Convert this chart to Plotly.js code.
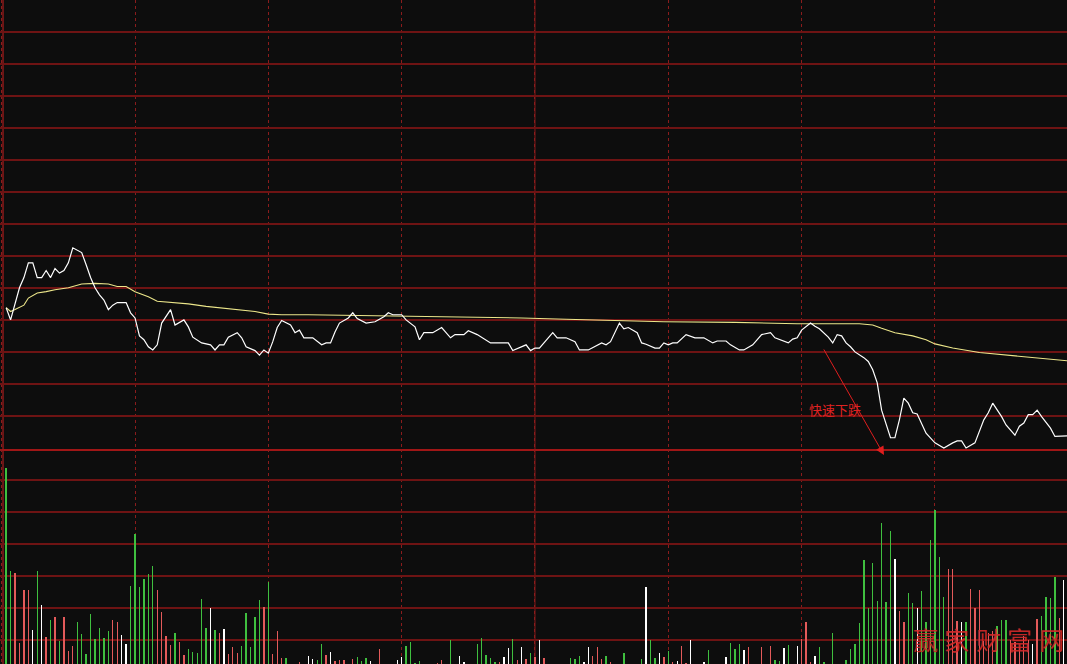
<!DOCTYPE html>
<html>
<head>
<meta charset="utf-8">
<script src="https://cdn.plot.ly/plotly-3.0.1.min.js"></script>
<style>
  html, body { margin: 0; padding: 0; background: #0d0d0d; }
  #chart { width: 1067px; height: 664px; }
</style>
</head>
<body>
<div id="chart"></div>
<script>
// ---- price line (minute of session, % change vs previous close) ----
const priceMin = [1,2,4,5,6,7,8,9,10,11,12,13,14,15,16,18,19,20,21,22,23,24,25,26,28,29,30,31,32,33,34,35,36,37,38,39,41,42,43,45,47,48,49,50,51,53,54,55,57,58,59,60,61,62,63,65,66,67,68,70,72,73,74,75,76,78,79,80,82,84,86,87,88,90,91,93,94,95,97,99,101,102,104,105,107,110,111,114,115,117,118,119,120,121,124,125,127,129,130,132,135,136,137,139,140,141,143,144,145,147,148,149,150,151,152,154,156,158,160,161,163,164,166,167,169,171,172,173,174,176,177,178,179,180,182,183,184,186,187,188,189,190,191,192,194,195,196,197,198,200,201,202,203,204,205,206,208,210,212,214,215,216,217,219,221,222,223,225,226,228,229,230,231,232,233,234,236,237,239,240];
const priceVal = [-1.31,-1.50,-1.00,-0.84,-0.61,-0.61,-0.84,-0.84,-0.73,-0.84,-0.70,-0.77,-0.73,-0.61,-0.375,-0.45,-0.64,-0.84,-1.00,-1.11,-1.19,-1.34,-1.27,-1.23,-1.23,-1.39,-1.47,-1.75,-1.81,-1.92,-1.97,-1.89,-1.55,-1.44,-1.34,-1.58,-1.50,-1.61,-1.77,-1.86,-1.89,-1.97,-1.89,-1.89,-1.77,-1.70,-1.78,-1.92,-1.98,-2.05,-1.97,-2.02,-1.84,-1.62,-1.51,-1.58,-1.70,-1.66,-1.78,-1.78,-1.89,-1.86,-1.86,-1.69,-1.55,-1.47,-1.39,-1.48,-1.55,-1.53,-1.45,-1.39,-1.42,-1.42,-1.50,-1.61,-1.81,-1.70,-1.70,-1.62,-1.78,-1.73,-1.73,-1.67,-1.73,-1.86,-1.86,-1.86,-1.98,-1.92,-1.89,-1.98,-1.94,-1.94,-1.70,-1.78,-1.78,-1.84,-1.97,-1.97,-1.86,-1.89,-1.84,-1.55,-1.64,-1.62,-1.70,-1.86,-1.88,-1.94,-1.94,-1.86,-1.89,-1.86,-1.86,-1.73,-1.78,-1.78,-1.86,-1.83,-1.83,-1.89,-1.97,-1.97,-1.89,-1.73,-1.72,-1.70,-1.78,-1.83,-1.86,-1.80,-1.78,-1.66,-1.55,-1.60,-1.64,-1.77,-1.86,-1.73,-1.75,-1.86,-1.92,-2.00,-2.09,-2.15,-2.28,-2.48,-2.91,-3.34,-3.34,-3.06,-2.72,-2.80,-2.95,-2.97,-3.27,-3.42,-3.50,-3.42,-3.39,-3.39,-3.50,-3.42,-3.06,-2.95,-2.80,-3.01,-3.14,-3.30,-3.16,-3.11,-2.98,-2.98,-2.91,-3.01,-3.19,-3.32,-3.31,-3.31];

// ---- average price line ----
const avgMin = [1,2,3,5,6,8,10,12,15,16,18,21,24,26,28,30,33,35,38,42,46,51,57,60,63,69,93,108,117,127,140,149,165,179,193,196,198,201,205,208,210,214,220,228,234,240];
const avgVal = [-1.31,-1.37,-1.34,-1.27,-1.16,-1.08,-1.06,-1.03,-1.00,-0.98,-0.94,-0.93,-0.94,-0.98,-0.98,-1.06,-1.14,-1.21,-1.23,-1.25,-1.29,-1.33,-1.37,-1.41,-1.42,-1.42,-1.44,-1.46,-1.47,-1.49,-1.51,-1.53,-1.54,-1.56,-1.56,-1.58,-1.63,-1.70,-1.75,-1.81,-1.875,-1.94,-2.01,-2.06,-2.10,-2.14];

// ---- volume per minute (lots), minutes 1..239 ----
const volume = [
 3180,1580,1540,460,1280,1280,660,1580,1050,550,
 810,860,480,860,330,410,780,590,280,910,
 520,690,530,640,810,780,580,440,1340,2160,
 1330,1450,1530,1660,1280,940,560,420,610,470,
 270,360,310,300,1140,690,1000,660,610,670,
 280,390,300,410,920,390,860,1130,1020,1410,
 280,640,220,220,0,0,160,0,250,200,
 190,440,270,310,170,190,190,0,200,230,
 170,220,170,0,360,0,0,0,190,230,
 410,470,140,170,0,0,0,140,190,0,
 500,0,250,160,0,0,440,530,270,220,
 160,160,230,380,520,190,390,200,300,230,
 500,220,0,0,0,0,0,220,200,250,
 160,390,250,390,200,250,160,0,0,300,
 0,0,0,200,1330,500,220,300,230,330,
 160,170,410,140,500,0,0,160,340,0,
 0,0,230,450,360,440,340,390,0,0,
 390,0,410,190,170,380,420,0,410,520,
 780,160,250,390,160,0,610,0,0,190,
 360,440,770,1750,1000,1700,1110,2330,1090,2200,
 1770,950,780,1230,1080,1000,1270,780,2060,2530,
 1800,1170,1610,1610,800,780,780,1300,1000,1280,
 480,610,640,720,810,810,500,470,390,560,
 500,440,830,880,1170,1160,1480,840,1440];
// 1 = up minute (red), -1 = down minute (green), 0 = flat (white)
const volDir = [
 -1,-1,1,1,1,1,0,-1,0,1,
 -1,1,-1,1,1,1,-1,-1,-1,-1,
 -1,-1,-1,-1,1,1,0,0,-1,-1,
 -1,-1,-1,-1,1,1,1,1,-1,1,
 1,-1,-1,-1,-1,-1,0,-1,1,0,
 1,1,1,-1,-1,-1,-1,-1,1,-1,
 1,1,1,-1,0,0,1,0,0,0,
 -1,-1,1,0,1,1,1,0,1,-1,
 -1,-1,0,0,1,0,0,0,0,0,
 -1,-1,-1,-1,0,0,0,1,1,0,
 -1,0,0,0,0,0,-1,-1,-1,-1,
 -1,1,0,0,-1,1,0,1,-1,1,
 0,1,0,0,0,0,0,-1,-1,-1,
 0,0,1,1,1,-1,1,0,0,-1,
 0,0,0,-1,0,-1,-1,0,1,-1,
 1,0,1,1,0,0,0,0,-1,0,
 0,0,0,-1,-1,-1,0,1,0,0,
 1,0,1,-1,-1,0,-1,0,0,1,
 1,1,0,-1,-1,0,-1,0,0,-1,
 -1,-1,-1,-1,-1,-1,-1,-1,-1,-1,
 0,1,1,-1,-1,0,-1,-1,-1,-1,
 -1,-1,1,1,1,0,-1,1,1,1,
 1,1,1,-1,-1,-1,1,1,1,1,
 1,0,1,-1,-1,-1,-1,1,0];

const annotationText = "快速下跌";
const watermarkChars = ["赢","家","财","富","网"];

// ---- build ----
const volMin = volume.map((v, i) => i + 1);
const dirColor = { "1": "#e35a5a", "-1": "#3fbf3f", "0": "#ffffff" };
const volColors = volDir.map(d => dirColor[String(d)]);

const W = 1067, H = 664;
const priceBottomPx = 449;                 // price panel spans 0..449 px
const priceDomain = [1 - priceBottomPx / H, 1];
const volDomain = [0, 1 - priceBottomPx / H];
const pxPerMin = 4.444, x0px = 1.7;
const xRange = [(0 - x0px) / pxPerMin, (W - x0px) / pxPerMin];
const lotsPerPx = 500 / 32;
const volPanelPx = H - priceBottomPx;

const gridRed = "#6e1313";

const traces = [
  {
    type: "bar", x: volMin, y: volume, xaxis: "x", yaxis: "y2",
    width: 0.3, marker: { color: volColors, line: { width: 0 } },
    hoverinfo: "skip", cliponaxis: true
  },
  {
    type: "scatter", mode: "lines", x: avgMin, y: avgVal, xaxis: "x", yaxis: "y",
    line: { color: "#ece68a", width: 1.1 }, hoverinfo: "skip"
  },
  {
    type: "scatter", mode: "lines", x: priceMin, y: priceVal, xaxis: "x", yaxis: "y",
    line: { color: "#ffffff", width: 1.2 }, hoverinfo: "skip"
  }
];

const annotations = [
  {
    xref: "paper", yref: "paper", x: 884 / W, y: 1 - 455 / H,
    ax: -61, ay: -107, axref: "pixel", ayref: "pixel",
    text: "", showarrow: true, arrowhead: 2, arrowsize: 1.7, arrowwidth: 1,
    arrowcolor: "#e01e1e", standoff: 0
  },
  {
    xref: "paper", yref: "paper", x: 835 / W, y: 1 - 409 / H,
    xanchor: "center", yanchor: "middle", showarrow: false,
    text: annotationText,
    font: { family: "Noto Sans CJK SC", size: 13, color: "#e02222" }
  }
];
watermarkChars.forEach((c, i) => {
  annotations.push({
    xref: "paper", yref: "paper", x: (925 + i * 31.5) / W, y: 1 - 639 / H,
    xanchor: "center", yanchor: "middle", showarrow: false, text: c,
    font: { family: "Noto Sans CJK SC", size: 25, color: "#d42a2a" }, opacity: 0.9
  });
});

const layout = {
  width: W, height: H,
  margin: { l: 0, r: 0, t: 0, b: 0, pad: 0 },
  paper_bgcolor: "#0d0d0d", plot_bgcolor: "#0d0d0d",
  showlegend: false, bargap: 0,
  xaxis: {
    range: xRange, tick0: 0, dtick: 30, showticklabels: false, ticks: "",
    showgrid: true, gridcolor: "#8a1c1c", griddash: "dot", gridwidth: 1,
    zeroline: false, showline: true, linecolor: "#a01616", linewidth: 2,
    anchor: "y", fixedrange: true
  },
  yaxis: {
    domain: priceDomain, range: [(224 - priceBottomPx) / 64, 223.5 / 64],
    tick0: 0, dtick: 0.5, showticklabels: false, ticks: "",
    showgrid: true, gridcolor: gridRed, gridwidth: 2, zeroline: false, fixedrange: true
  },
  yaxis2: {
    domain: volDomain, anchor: "x",
    range: [8 * lotsPerPx, 8 * lotsPerPx + volPanelPx * lotsPerPx],
    tick0: 0, dtick: 500, showticklabels: false, ticks: "",
    showgrid: true, gridcolor: gridRed, gridwidth: 2, zeroline: false, fixedrange: true
  },
  shapes: [
    { type: "line", xref: "x", yref: "paper", x0: 120, x1: 120, y0: 0, y1: 1,
      line: { color: "#8a1a1a", width: 1 }, layer: "below" },
    { type: "line", xref: "x", yref: "paper", x0: 0.3, x1: 0.3, y0: 0, y1: 1,
      line: { color: "#8a1a1a", width: 1.5 }, layer: "below" }
  ],
  annotations: annotations
};

Plotly.newPlot("chart", traces, layout, { staticPlot: true, displayModeBar: false });
</script>
</body>
</html>
